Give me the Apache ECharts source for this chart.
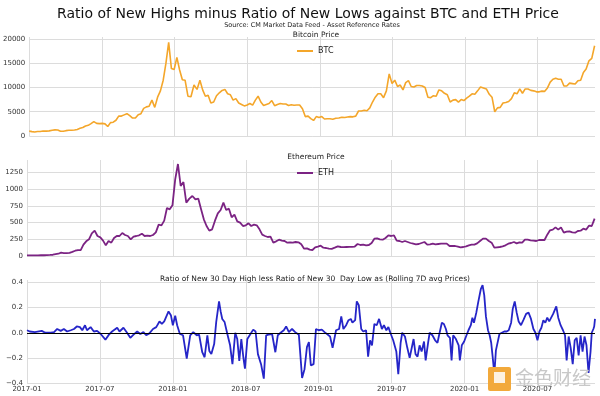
<!DOCTYPE html>
<html>
<head>
<meta charset="utf-8">
<script src="https://cdn.jsdelivr.net/npm/echarts@6/dist/echarts.min.js"></script>
<style>
  html, body { margin: 0; padding: 0; background: #fff; }
  #main { width: 600px; height: 396px; }
</style>
</head>
<body>
<div id="main"></div>
<script>
// weekly closes, first point 2017-01-01, one value every 7 days
var btc2017 = [1000, 900, 820, 920, 920, 1020, 1000, 1050, 1190, 1270, 1230, 970, 970, 1100, 1200, 1180, 1250, 1350,
    1600, 1750, 2050, 2200, 2550, 2950, 2600, 2550, 2600, 2500, 1950, 2750, 2850, 3250, 4100, 4100, 4350, 4600, 4200,
    3700, 3700, 4400, 4600, 5700, 6000, 6150, 7400, 5900, 8000, 9300, 11500, 15000, 19300, 13900, 13700];
var btc2018 = [16200, 13600, 11600, 11500, 8200, 8100, 10500, 9600, 11500, 9500, 8200, 8400, 6800, 7000, 8300, 8900,
    9400, 9600, 8700, 8500, 7400, 7700, 6800, 6500, 6200, 6400, 6700, 6350, 7400, 8200, 7000, 6300, 6500, 6700, 7300,
    6250, 6500, 6700, 6600, 6600, 6300, 6450, 6350, 6400, 6400, 5600, 4000, 4100, 3600, 3200, 4000, 3800];
var btc2019 = [4000, 3500, 3550, 3550, 3450, 3650, 3700, 3850, 3800, 3900, 4000, 3950, 4100, 5150, 5150, 5300, 5200,
    5800, 7000, 8000, 8700, 8700, 7900, 9300, 12800, 10800, 11500, 10200, 10500, 9500, 11000, 11400, 10200, 10100,
    10400, 10400, 10300, 10000, 8000, 7900, 8300, 8200, 9500, 9300, 8800, 8500, 7000, 7400, 7500, 7000, 7500, 7300];
var btc2020 = [7800, 8200, 8700, 8600, 9300, 10100, 9900, 9700, 8600, 8000, 5000, 5800, 5900, 6800, 6900, 7100, 7700,
    8900, 8700, 9700, 8800, 9700, 9700, 9400, 9300, 9100, 9100, 9250, 9200, 9900, 11100, 11700, 11900, 11700, 11700,
    10300, 10300, 10900, 10800, 10700, 11400, 11500, 13100, 13800, 15500, 16000, 18600];

var eth2017 = [8, 10, 10, 10.5, 10.7, 11.3, 11.4, 12.7, 15.6, 19, 28, 34, 50, 44, 43, 48, 63, 79, 89, 88, 170, 220,
    250, 340, 380, 300, 280, 230, 160, 225, 200, 270, 300, 300, 345, 315, 300, 250, 290, 300, 310, 335, 300, 305, 300,
    315, 355, 470, 460, 530, 720, 700, 760];
var eth2018 = [1150, 1380, 1050, 1110, 800, 860, 900, 850, 860, 700, 550, 450, 380, 400, 530, 640, 690, 800, 690, 710,
    580, 620, 520, 500, 450, 460, 490, 450, 470, 460, 400, 320, 300, 285, 290, 200, 220, 245, 230, 225, 200, 205, 200,
    210, 205, 175, 110, 115, 95, 90, 130, 140];
var eth2019 = [155, 125, 120, 110, 108, 125, 145, 135, 132, 135, 137, 137, 142, 180, 165, 170, 160, 165, 195, 260, 265,
    250, 245, 270, 310, 300, 310, 230, 225, 210, 225, 210, 195, 185, 175, 180, 195, 210, 170, 175, 185, 175, 180, 185,
    185, 185, 150, 150, 150, 140, 130, 135];
var eth2020 = [145, 160, 170, 170, 190, 225, 260, 260, 225, 200, 125, 130, 135, 145, 160, 185, 195, 210, 190, 205, 200,
    245, 245, 235, 230, 225, 240, 240, 240, 320, 385, 395, 430, 395, 430, 350, 365, 370, 355, 350, 375, 380, 410, 395,
    455, 450, 560];

// [days since 2017-01-01, ratio]
var ratio = [
    [0, 0.02], [7, 0.01], [20, 0.005], [37, 0.015], [45, 0], [58, 0], [66, 0.005], [74, 0.03], [83, 0.015],
    [91, 0.03], [99, 0.01], [108, 0.02], [116, 0.03], [123, 0.05], [131, 0.045], [137, 0.02], [144, 0.06],
    [149, 0.02], [158, 0.045], [166, 0.01], [174, 0.015], [183, -0.01], [195, -0.055], [204, -0.015], [212, 0.01],
    [225, 0.04], [231, 0.01], [241, 0.04], [250, 0], [258, -0.04], [266, -0.015], [275, 0.01], [283, -0.01],
    [291, 0.005], [298, -0.02], [306, -0.005], [315, 0.03], [323, 0.045], [331, 0.09], [337, 0.07], [343, 0.09],
    [348, 0.075], [354, 0.17], [360, 0.14], [365, 0.06], [371, 0.135], [376, 0.06], [383, -0.01], [391, -0.02],
    [400, -0.205], [408, -0.02], [415, 0.005], [423, -0.02], [429, -0.015], [437, -0.155], [443, -0.195],
    [450, -0.02], [455, -0.145], [460, -0.17], [467, -0.09], [472, 0.085], [479, 0.25], [483, 0.17], [487, 0.11],
    [493, 0.085], [500, -0.01], [507, -0.1], [513, -0.25], [520, 0], [525, -0.05], [530, -0.225], [535, -0.05],
    [540, -0.195], [544, -0.285], [550, -0.05], [558, -0.01], [565, 0.025], [571, 0.01], [577, -0.17], [585, -0.25],
    [592, -0.365], [598, -0.02], [604, -0.015], [613, -0.01], [621, -0.155], [627, -0.02], [634, 0], [642, 0.02],
    [648, 0.05], [655, 0.005], [663, 0.03], [671, 0.005], [680, -0.015], [688, -0.36], [694, -0.29], [700, -0.115],
    [705, -0.075], [710, -0.26], [717, -0.25], [723, 0.03], [730, 0.02], [738, 0.025], [745, 0.005], [750, 0.01],
    [759, -0.03], [765, -0.12], [773, 0.02], [780, 0.03], [785, 0.13], [790, 0.03], [797, 0.06], [803, 0.1],
    [809, 0.11], [813, 0.08], [820, 0.1], [824, 0.25], [829, 0.22], [835, 0.03], [840, 0.01], [847, 0.02],
    [852, -0.19], [857, -0.06], [862, -0.1], [868, 0.07], [874, 0.06], [880, 0.11], [887, 0.03], [892, 0.06],
    [898, 0.02], [903, 0.045], [909, -0.01], [915, -0.06], [920, -0.06], [923, -0.15], [928, -0.33], [934, -0.08],
    [938, 0], [945, -0.03], [951, -0.12], [957, -0.2], [962, -0.2], [967, -0.05], [972, -0.17], [977, -0.19],
    [982, -0.1], [987, -0.15], [993, -0.07], [997, -0.22], [1003, -0.08], [1007, 0], [1014, -0.02], [1021, -0.06],
    [1027, -0.08], [1031, -0.02], [1038, 0.08], [1043, 0.07], [1048, 0.03], [1052, -0.02], [1058, -0.04],
    [1062, -0.22], [1066, -0.02], [1073, -0.05], [1080, -0.1], [1083, -0.22], [1088, -0.1], [1094, -0.07],
    [1100, -0.02], [1105, 0.02], [1111, 0.06], [1115, 0.12], [1119, 0.08], [1125, 0.16], [1130, 0.25], [1136, 0.35],
    [1140, 0.38], [1144, 0.3], [1148, 0.13], [1153, 0.02], [1157, -0.02], [1161, -0.08], [1165, -0.2], [1169, -0.33],
    [1173, -0.14], [1177, -0.15], [1182, -0.01], [1188, 0], [1194, 0.01], [1200, 0.01], [1205, 0.02], [1211, 0.08],
    [1215, 0.19], [1220, 0.25], [1225, 0.16], [1230, 0.09], [1236, 0.06], [1242, 0.1], [1249, 0.15], [1255, 0.16],
    [1261, 0.11], [1267, 0.03], [1272, 0], [1277, -0.06], [1282, 0.01], [1287, 0.04], [1292, 0.1], [1297, 0.08],
    [1302, 0.12], [1307, 0.09], [1312, 0.12], [1317, 0.15], [1325, 0.21], [1330, 0.12], [1336, 0.06], [1342, 0.02],
    [1347, -0.02], [1351, -0.22], [1356, -0.03], [1361, -0.12], [1366, -0.25], [1371, -0.06], [1376, -0.04],
    [1381, -0.18], [1386, -0.02], [1391, -0.15], [1396, -0.03], [1401, -0.1], [1406, -0.32], [1411, -0.15],
    [1414, 0], [1418, 0.03], [1420, 0.05], [1422, 0.11]
];

var lastDay = 1422;

function toMonths(day) {
    var d = new Date(Date.UTC(2017, 0, 1) + day * 86400000);
    var y = d.getUTCFullYear(), m = d.getUTCMonth();
    var dim = new Date(Date.UTC(y, m + 1, 0)).getUTCDate();
    return (y - 2017) * 12 + m + (d.getUTCDate() - 1) / dim;
}
function weekly(vals) {
    return vals.map(function (v, i) { return [toMonths(i * 7), v]; });
}
function monthLabel(v) {
    var y = 2017 + Math.floor(v / 12), m = Math.round(v % 12) + 1;
    return y + '-' + (m < 10 ? '0' + m : m);
}
function plain(v) {
    return String(Math.round(v));
}
function minus(v) {
    return String(+v.toFixed(1)).replace('-', '\u2212').replace(/^(\u2212?\d+)$/, '$1.0');
}

var btc = weekly(btc2017.concat(btc2018, btc2019, btc2020));
var eth = weekly(eth2017.concat(eth2018, eth2019, eth2020));
var ratioData = ratio.map(function (p) { return [toMonths(p[0]), p[1]]; });

var font = 'DejaVu Sans';
var gridColor = '#dcdcdc';

function xAxis(idx, labels) {
    return {
        type: 'value', gridIndex: idx, min: 0, max: toMonths(lastDay), interval: 6,
        axisLine: { show: false }, axisTick: { show: false },
        splitLine: { show: true, showMaxLine: false, lineStyle: { color: gridColor, width: 1 } },
        axisLabel: { show: labels, fontFamily: font, fontSize: 7, color: '#333', margin: 3,
            showMaxLabel: false, formatter: monthLabel }
    };
}
function yAxis(idx, min, max, interval, fmt) {
    return {
        type: 'value', gridIndex: idx, min: min, max: max, interval: interval,
        axisLine: { show: false }, axisTick: { show: false },
        splitLine: { show: true, showMaxLine: false, lineStyle: { color: gridColor, width: 1 } },
        axisLabel: { fontFamily: font, fontSize: 7, color: '#333', margin: 4, showMaxLabel: false, formatter: fmt }
    };
}

var options = {
    animation: false,
    backgroundColor: '#fff',
    title: [
        { text: 'Ratio of New Highs minus Ratio of New Lows against BTC and ETH Price', left: 303, textAlign: 'center',
            top: 2, textStyle: { fontFamily: font, fontSize: 14, fontWeight: 'normal', color: '#111' } },
        { text: 'Source: CM Market Data Feed - Asset Reference Rates', left: 307, textAlign: 'center', top: 17,
            textStyle: { fontFamily: font, fontSize: 6.5, fontWeight: 'normal', color: '#222' } },
        { text: 'Bitcoin Price', left: 311, textAlign: 'center', top: 26,
            textStyle: { fontFamily: font, fontSize: 7.5, fontWeight: 'normal', color: '#222' } },
        { text: 'Ethereum Price', left: 311, textAlign: 'center', top: 148,
            textStyle: { fontFamily: font, fontSize: 7.5, fontWeight: 'normal', color: '#222' } },
        { text: 'Ratio of New 30 Day High less Ratio of New 30  Day Low as (Rolling 7D avg Prices)', left: 310,
            textAlign: 'center', top: 270,
            textStyle: { fontFamily: font, fontSize: 7.5, fontWeight: 'normal', color: '#222' } }
    ],
    legend: [
        { data: ['BTC'], left: 292, top: 42, icon: 'rect', itemWidth: 16, itemHeight: 2, itemGap: 6,
            textStyle: { fontFamily: font, fontSize: 8, color: '#222' } },
        { data: ['ETH'], left: 292, top: 164, icon: 'rect', itemWidth: 16, itemHeight: 2, itemGap: 6,
            textStyle: { fontFamily: font, fontSize: 8, color: '#222' } }
    ],
    grid: [
        { left: 27, right: 5, top: 37, height: 99 },
        { left: 27, right: 5, top: 160, height: 96 },
        { left: 27, right: 5, top: 280, height: 103 }
    ],
    xAxis: [xAxis(0, false), xAxis(1, false), xAxis(2, true)],
    yAxis: [
        yAxis(0, 0, 20400, 5000, plain),
        yAxis(1, 0, 1440, 250, plain),
        yAxis(2, -0.4, 0.42, 0.2, minus)
    ],
    graphic: [
        { type: 'rect', left: 488, top: 367, shape: { width: 23, height: 24, r: 2 },
            style: { fill: '#F2A93B' }, z: 100 },
        { type: 'rect', left: 494, top: 372, shape: { width: 11, height: 11 },
            style: { fill: '#fff', opacity: 0.85 }, z: 101 },
        { type: 'text', left: 515, top: 368,
            style: { text: '金色财经', font: '19px "Noto Sans CJK SC"', fill: '#c8c8c8' }, z: 100 }
    ],
    series: [
        { name: 'BTC', type: 'line', xAxisIndex: 0, yAxisIndex: 0, data: btc, showSymbol: false,
            lineStyle: { color: '#F4A62A', width: 1.6 }, itemStyle: { color: '#F4A62A' } },
        { name: 'ETH', type: 'line', xAxisIndex: 1, yAxisIndex: 1, data: eth, showSymbol: false,
            lineStyle: { color: '#7B2383', width: 1.8 }, itemStyle: { color: '#7B2383' } },
        { name: 'Ratio', type: 'line', xAxisIndex: 2, yAxisIndex: 2, data: ratioData, showSymbol: false,
            lineStyle: { color: '#2525C8', width: 1.8 }, itemStyle: { color: '#2525C8' },
            markLine: { silent: true, symbol: 'none', label: { show: false },
                lineStyle: { color: '#000', width: 1.2, type: 'solid' }, data: [{ yAxis: 0 }] } }
    ]
};

var chart = echarts.init(document.getElementById('main'));
chart.setOption(options);
</script>
</body>
</html>
